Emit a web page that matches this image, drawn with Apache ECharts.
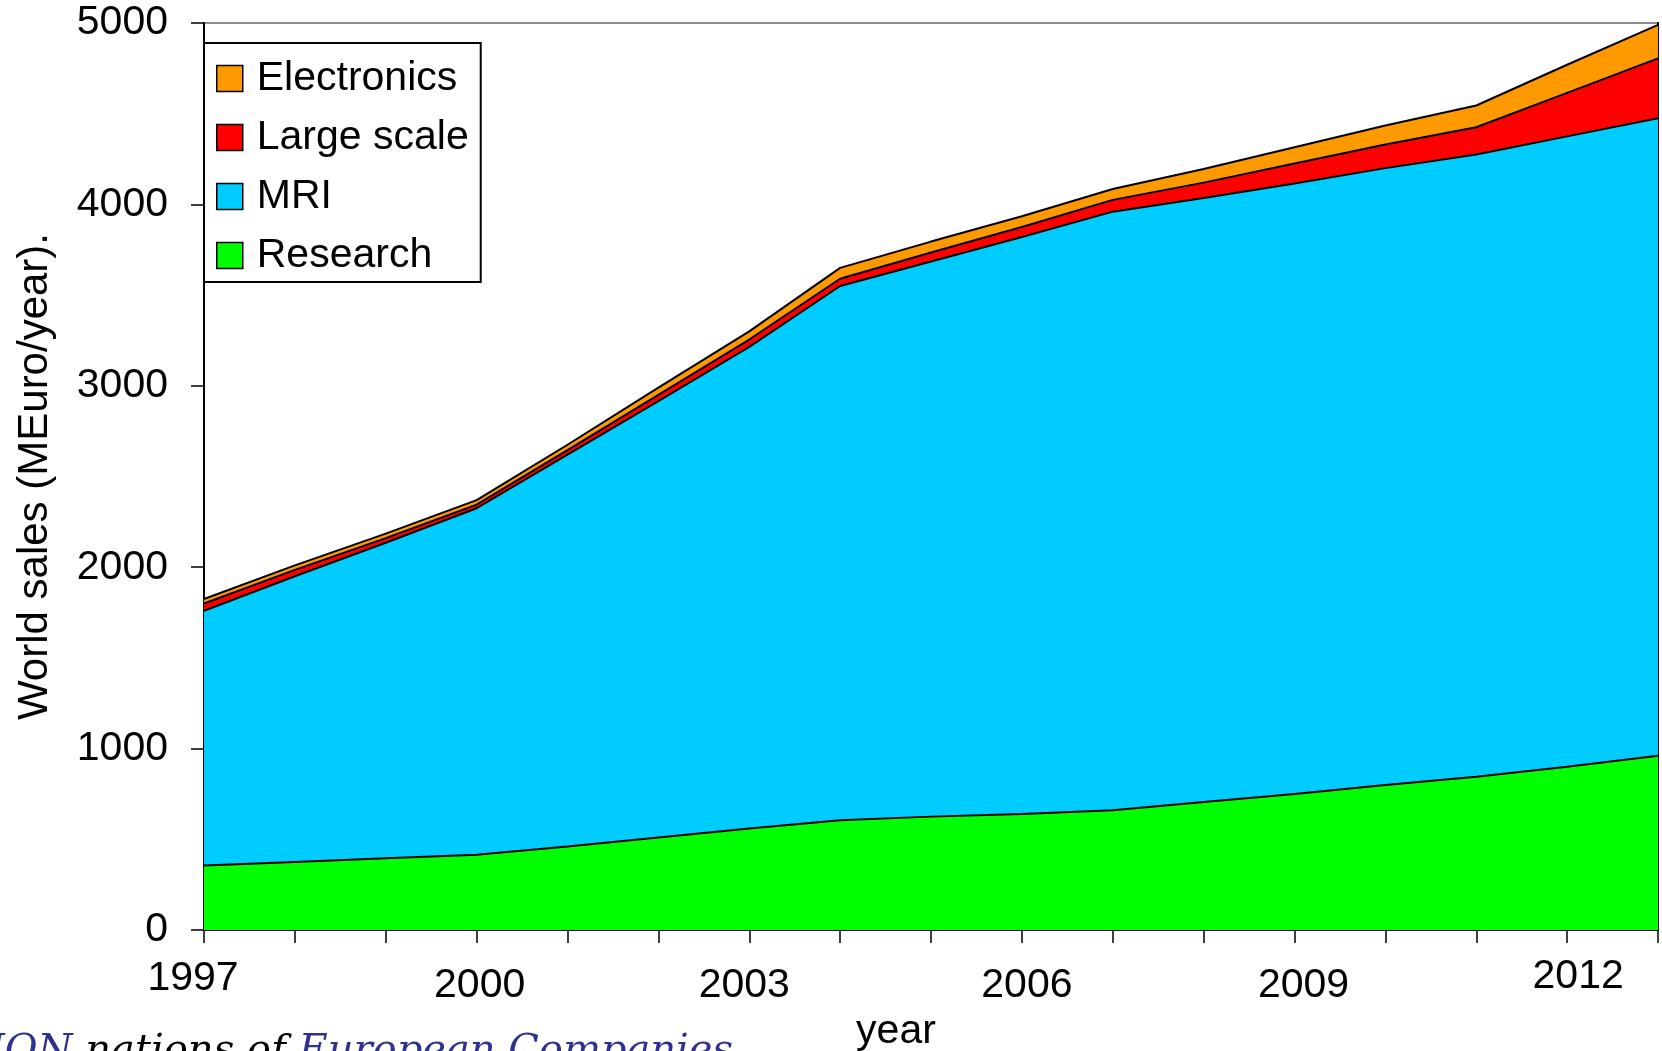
<!DOCTYPE html>
<html>
<head>
<meta charset="utf-8">
<title>World sales (MEuro/year)</title>
<script src="https://cdn.jsdelivr.net/npm/echarts@6/dist/echarts.min.js"></script>
<style>
  html, body { margin: 0; padding: 0; background: #ffffff; }
  #chart { width: 1662px; height: 1051px; }
</style>
</head>
<body>
<div id="chart"></div>
<script>
// Years on the horizontal axis and the subset that carries a label
const years = ['1997','1998','1999','2000','2001','2002','2003','2004','2005',
               '2006','2007','2008','2009','2010','2011','2012','2013'];
const yearTickLabels = ['1997','2000','2003','2006','2009','2012'];
const salesTicks = [0, 1000, 2000, 3000, 4000, 5000];

// World sales per application, MEuro/year (stacked bottom to top)
const research    = [355, 375, 395, 415, 460, 510, 560, 605, 625, 640, 660, 705, 750, 800, 845, 900, 960];
const mri         = [1405, 1575, 1740, 1910, 2160, 2405, 2655, 2945, 3060, 3180, 3300, 3330, 3365, 3400, 3430, 3475, 3515];
const largeScale  = [40, 35, 25, 20, 25, 35, 40, 40, 50, 55, 65, 85, 110, 130, 150, 240, 330];
const electronics = [25, 25, 25, 25, 30, 40, 45, 60, 60, 60, 60, 75, 90, 105, 120, 155, 185];

const seriesNames = ['Research', 'MRI', 'Large scale', 'Electronics'];
const seriesColors = ['#00ff00', '#00ccff', '#ff0000', '#ff9900'];
const seriesValues = [research, mri, largeScale, electronics];

const FONT = "'Liberation Sans', Arial, sans-serif";
const TICK_FONT_SIZE = 41;

// Small per-label nudges of the year labels (padding in px)
const yearLabelPad = {
  '1997': [2, 22, 0, 0],
  '2000': [9, 0, 0, 6],
  '2003': [9, 10, 0, 0],
  '2006': [9, 0, 0, 10],
  '2009': [9, 0, 0, 18],
  '2012': [0, 0, 0, 22]
};
const yearRich = {};
yearTickLabels.forEach(function (y) {
  yearRich['y' + y] = { fontSize: TICK_FONT_SIZE, fontFamily: FONT, color: '#000', padding: yearLabelPad[y] };
});

const chart = echarts.init(document.getElementById('chart'), null, { renderer: 'canvas' });

const series = seriesNames.map(function (name, i) {
  return {
    name: name,
    type: 'line',
    stack: 'sales',
    data: seriesValues[i],
    symbol: 'none',
    color: seriesColors[i],
    lineStyle: { color: '#000', width: 2 },
    areaStyle: { color: seriesColors[i], opacity: 1 },
    emphasis: { disabled: true },
    silent: true
  };
});

chart.setOption({
  animation: false,
  backgroundColor: '#ffffff',
  grid: {
    left: 204, right: 4, top: 23, bottom: 121,
    containLabel: false,
    outerBoundsMode: 'none',
    show: true, borderColor: '#8c8c8c', borderWidth: 2, backgroundColor: 'transparent'
  },
  legend: {
    left: 204, top: 43,
    orient: 'vertical',
    selectedMode: false,
    icon: 'rect',
    itemWidth: 26, itemHeight: 26,
    itemGap: 18,
    padding: [15, 12, 6, 12],
    backgroundColor: '#ffffff',
    borderColor: '#000', borderWidth: 2,
    itemStyle: { borderColor: '#000', borderWidth: 1.5 },
    textStyle: { fontSize: 41, fontFamily: FONT, color: '#000', padding: [0, 0, 0, 9] },
    data: [3, 2, 1, 0].map(function (i) {
      return { name: seriesNames[i], itemStyle: { color: seriesColors[i], borderColor: '#000', borderWidth: 1.5 } };
    })
  },
  xAxis: [{
    type: 'category',
    data: years,
    boundaryGap: false,
    name: 'year',
    nameLocation: 'middle',
    nameGap: 78,
    nameTextStyle: { fontSize: TICK_FONT_SIZE, fontFamily: FONT, color: '#000', padding: [0, 70, 0, 0] },
    axisLine: { show: true, onZero: false, lineStyle: { color: '#000', width: 2 } },
    axisTick: { show: true, interval: 0, length: 13, lineStyle: { color: '#000', width: 1.5 } },
    axisLabel: {
      interval: 0,
      margin: 26,
      rich: yearRich,
      formatter: function (v) {
        return yearTickLabels.indexOf(v) >= 0 ? '{y' + v + '|' + v + '}' : '';
      }
    },
    splitLine: { show: false }
  }],
  yAxis: [{
    type: 'value',
    min: salesTicks[0],
    max: salesTicks[salesTicks.length - 1],
    interval: 1000,
    name: 'World sales (MEuro/year).',
    nameLocation: 'middle',
    nameGap: 148,
    nameTextStyle: { fontSize: 42, fontFamily: FONT, color: '#000' },
    axisLine: { show: true, lineStyle: { color: '#000', width: 2 } },
    axisTick: { show: true, length: 13, lineStyle: { color: '#000', width: 1.5 } },
    axisLabel: {
      fontSize: TICK_FONT_SIZE, fontFamily: FONT, color: '#000', margin: 36,
      formatter: function (v) { return String(v); }
    },
    splitLine: { show: false }
  }, {
    type: 'value',
    position: 'right',
    min: salesTicks[0],
    max: salesTicks[salesTicks.length - 1],
    interval: 1000,
    axisLine: { show: true, lineStyle: { color: '#000', width: 2 } },
    axisTick: { show: false },
    axisLabel: { show: false },
    splitLine: { show: false }
  }],
  series: series,
  graphic: [{
    type: 'text',
    left: -11,
    top: 1032,
    silent: true,
    style: {
      text: '{b|ION}{k| nations of }{b|European Companies}',
      font: "italic 40px 'DejaVu Serif', serif",
      rich: {
        b: { fontSize: 40, fontStyle: 'italic', fontFamily: "'DejaVu Serif', serif", fill: '#2e3192' },
        k: { fontSize: 40, fontStyle: 'italic', fontFamily: "'DejaVu Serif', serif", fill: '#000' }
      }
    }
  }]
});
</script>
</body>
</html>
